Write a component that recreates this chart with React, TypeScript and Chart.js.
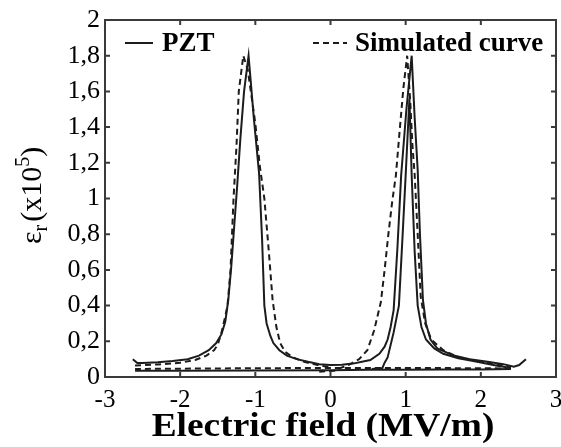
import React, { useEffect, useRef } from "react";
import { Chart, registerables } from "chart.js";
Chart.register(...registerables);

// ---- axis ticks ----
const xTickValues = [-3, -2, -1, 0, 1, 2, 3];
const yTickValues = [0, 0.2, 0.4, 0.6, 0.8, 1, 1.2, 1.4, 1.6, 1.8, 2];

// ---- PZT (measured, solid) : main loop through both peaks ----
const pztMainE = [-2.63, -2.57, -2.5, -2.3, -2.1, -1.9, -1.75, -1.62, -1.52, -1.45, -1.4, -1.36, -1.32, -1.28, -1.24, -1.2, -1.15, -1.09, -1.02, -0.95, -0.91, -0.88, -0.85, -0.8, -0.76, -0.68, -0.58, -0.45, -0.3, -0.15, 0, 0.15, 0.3, 0.45, 0.53, 0.65, 0.72, 0.76, 0.8, 0.84, 0.89, 0.94, 1.01, 1.08, 1.12, 1.16, 1.19, 1.23, 1.27, 1.33, 1.42, 1.64, 1.85, 2.09, 2.3, 2.44, 2.51, 2.6];
const pztMainV = [0.1, 0.078, 0.078, 0.083, 0.09, 0.1, 0.12, 0.15, 0.19, 0.24, 0.31, 0.43, 0.62, 0.85, 1.08, 1.33, 1.6, 1.8, 1.45, 1.14, 0.77, 0.4, 0.3, 0.23, 0.19, 0.15, 0.12, 0.1, 0.085, 0.072, 0.067, 0.068, 0.075, 0.088, 0.095, 0.13, 0.17, 0.21, 0.28, 0.375, 0.72, 1.13, 1.5, 1.8, 1.45, 1.16, 0.8, 0.43, 0.3, 0.21, 0.16, 0.12, 0.1, 0.085, 0.072, 0.058, 0.067, 0.1];

// ---- PZT : inner loop (secondary peak) ----
const pztInnerE = [0.55, 0.69, 0.72, 0.76, 0.84, 0.91, 0.96, 1.0, 1.05, 1.08, 1.12, 1.16, 1.21, 1.27, 1.38, 1.5, 1.7, 1.9, 2.2, 2.4];
const pztInnerV = [0.045, 0.05, 0.08, 0.11, 0.25, 0.4, 0.8, 1.13, 1.56, 1.13, 0.7, 0.4, 0.28, 0.21, 0.16, 0.13, 0.105, 0.09, 0.065, 0.05];

// ---- PZT : low return branch ----
const pztBaseE = [-2.6, -2.0, -1.0, 0, 0.5, 1.0, 1.5, 2.0, 2.4];
const pztBaseV = [0.035, 0.035, 0.037, 0.038, 0.04, 0.04, 0.042, 0.042, 0.045];

// ---- Simulated (dashed) : left peak branch ----
const simLeftE = [-2.6, -2.3, -2.0, -1.8, -1.65, -1.55, -1.5, -1.45, -1.4, -1.37, -1.33, -1.29, -1.25, -1.22, -1.16, -1.1, -1.06, -1.0, -0.94, -0.88, -0.82, -0.77, -0.72, -0.67, -0.6, -0.5, -0.35, -0.15, 0];
const simLeftV = [0.065, 0.07, 0.08, 0.095, 0.12, 0.15, 0.18, 0.25, 0.34, 0.4, 0.6, 1.0, 1.3, 1.6, 1.8, 1.72, 1.6, 1.42, 1.18, 1.0, 0.7, 0.43, 0.28, 0.19, 0.14, 0.11, 0.085, 0.065, 0.055];

// ---- Simulated : right peak branch ----
const simRightE = [-0.15, 0.05, 0.13, 0.25, 0.38, 0.49, 0.58, 0.67, 0.72, 0.77, 0.82, 0.87, 0.92, 0.97, 1.02, 1.06, 1.09, 1.12, 1.16, 1.2, 1.26, 1.34, 1.5, 1.7, 2.0, 2.2, 2.4];
const simRightV = [0.03, 0.035, 0.05, 0.07, 0.1, 0.15, 0.26, 0.42, 0.6, 0.8, 0.98, 1.13, 1.38, 1.62, 1.8, 1.55, 1.3, 1.13, 0.8, 0.45, 0.3, 0.21, 0.15, 0.11, 0.085, 0.07, 0.06];

// ---- Simulated : low return branch ----
const simBaseE = [2.4, 1.5, 0.5, -0.5, -1.5, -2.6];
const simBaseV = [0.048, 0.05, 0.05, 0.05, 0.048, 0.045];

const zip = (e: number[], v: number[]) => e.map((x, i) => ({ x, y: v[i] }));

const SERIF = "'Liberation Serif', 'Times New Roman', serif";
const INK = "#1c1c1c";

const decorations = {
  id: "decorations",
  afterDraw(chart: any) {
    const { ctx, chartArea: a, scales } = chart;
    const xs = scales.x;
    const ys = scales.y;
    ctx.save();
    // frame
    ctx.strokeStyle = "#3a3a3a";
    ctx.lineWidth = 2;
    ctx.strokeRect(a.left, a.top, a.right - a.left, a.bottom - a.top);
    // inward ticks on all four sides
    const t = 5;
    ctx.beginPath();
    for (const v of xTickValues) {
      const px = xs.getPixelForValue(v);
      ctx.moveTo(px, a.bottom);
      ctx.lineTo(px, a.bottom - t);
      ctx.moveTo(px, a.top);
      ctx.lineTo(px, a.top + t);
    }
    for (const v of yTickValues) {
      const py = ys.getPixelForValue(v);
      ctx.moveTo(a.left, py);
      ctx.lineTo(a.left + t, py);
      ctx.moveTo(a.right, py);
      ctx.lineTo(a.right - t, py);
    }
    ctx.stroke();

    // legend
    ctx.fillStyle = "#000";
    ctx.strokeStyle = INK;
    ctx.lineWidth = 2;
    ctx.textBaseline = "middle";
    ctx.font = `bold 27px ${SERIF}`;
    const ly = a.top + 23;
    ctx.setLineDash([]);
    ctx.beginPath();
    ctx.moveTo(a.left + 20, ly);
    ctx.lineTo(a.left + 48, ly);
    ctx.stroke();
    ctx.fillText("PZT", a.left + 57, ly + 1);
    ctx.setLineDash([6, 4]);
    ctx.beginPath();
    ctx.moveTo(a.left + 208, ly);
    ctx.lineTo(a.left + 242, ly);
    ctx.stroke();
    ctx.setLineDash([]);
    ctx.fillText("Simulated curve", a.left + 250, ly + 1);

    // x-axis title (slightly widened like the reference)
    ctx.font = `bold 34px ${SERIF}`;
    ctx.textBaseline = "alphabetic";
    ctx.textAlign = "center";
    ctx.save();
    ctx.translate(a.left + 218, a.bottom + 59);
    ctx.scale(1.1, 1);
    ctx.fillText("Electric field (MV/m)", 0, 0);
    ctx.restore();

    // y-axis title (rotated) : ε_r (x10^5)
    ctx.translate(a.left - 72, (a.top + a.bottom) / 2 - 3);
    ctx.rotate(-Math.PI / 2);
    ctx.textAlign = "left";
    const big = `30px ${SERIF}`;
    const small = `20px ${SERIF}`;
    const parts: [string, string, number][] = [
      ["ε", big, 0],
      ["r", small, 6],
      ["(x10", big, 0],
      ["5", small, -12],
      [")", big, 0],
    ];
    let total = 0;
    for (const [s, f] of parts) {
      ctx.font = f;
      total += ctx.measureText(s).width + (s === "r" ? 3 : 0);
    }
    let cx = -total / 2;
    for (const [s, f, dy] of parts) {
      ctx.font = f;
      ctx.fillText(s, cx, 8 + dy);
      cx += ctx.measureText(s).width + (s === "r" ? 3 : 0);
    }
    ctx.restore();
  },
};

export default function App() {
  const ref = useRef<HTMLCanvasElement | null>(null);
  useEffect(() => {
    if (!ref.current) return;
    const solid = { borderColor: INK, borderWidth: 2, pointRadius: 0, showLine: true, fill: false, tension: 0 };
    const dashed = { ...solid, borderDash: [6, 4] };
    const chart = new Chart(ref.current, {
      type: "scatter",
      data: {
        datasets: [
          { label: "PZT", data: zip(pztMainE, pztMainV), ...solid },
          { label: "PZT inner", data: zip(pztInnerE, pztInnerV), ...solid },
          { label: "PZT base", data: zip(pztBaseE, pztBaseV), ...solid },
          { label: "Simulated curve", data: zip(simLeftE, simLeftV), ...dashed },
          { label: "Simulated right", data: zip(simRightE, simRightV), ...dashed },
          { label: "Simulated base", data: zip(simBaseE, simBaseV), ...dashed },
        ] as any,
      },
      options: {
        animation: false,
        responsive: true,
        maintainAspectRatio: false,
        layout: { padding: { top: 20, right: 5, left: 0, bottom: 0 }, autoPadding: false } as any,
        plugins: { legend: { display: false }, tooltip: { enabled: false } },
        scales: {
          x: {
            type: "linear",
            min: -3,
            max: 3,
            afterFit: (s: any) => { s.height = 70; s.paddingLeft = 0; s.paddingRight = 0; },
            afterBuildTicks: (s: any) => { s.ticks = xTickValues.map((value) => ({ value })); },
            grid: { display: false, drawTicks: false },
            border: { display: false },
            ticks: {
              color: "#000",
              padding: 8,
              font: { family: SERIF, size: 25 },
              callback: (v: any) => String(v),
            },
          },
          y: {
            type: "linear",
            min: 0,
            max: 2,
            afterFit: (s: any) => { s.width = 105; s.paddingTop = 0; s.paddingBottom = 0; },
            afterBuildTicks: (s: any) => { s.ticks = yTickValues.map((value) => ({ value })); },
            grid: { display: false, drawTicks: false },
            border: { display: false },
            ticks: {
              color: "#000",
              padding: 5,
              font: { family: SERIF, size: 26 },
              callback: (v: any) => String(Number(Number(v).toFixed(1))).replace(".", ","),
            },
          },
        },
      },
      plugins: [decorations],
    } as any);
    return () => chart.destroy();
  }, []);
  return (
    <div style={{ position: "absolute", left: 0, top: 0, width: 561, height: 447, background: "#fff" }}>
      <canvas ref={ref} />
    </div>
  );
}
